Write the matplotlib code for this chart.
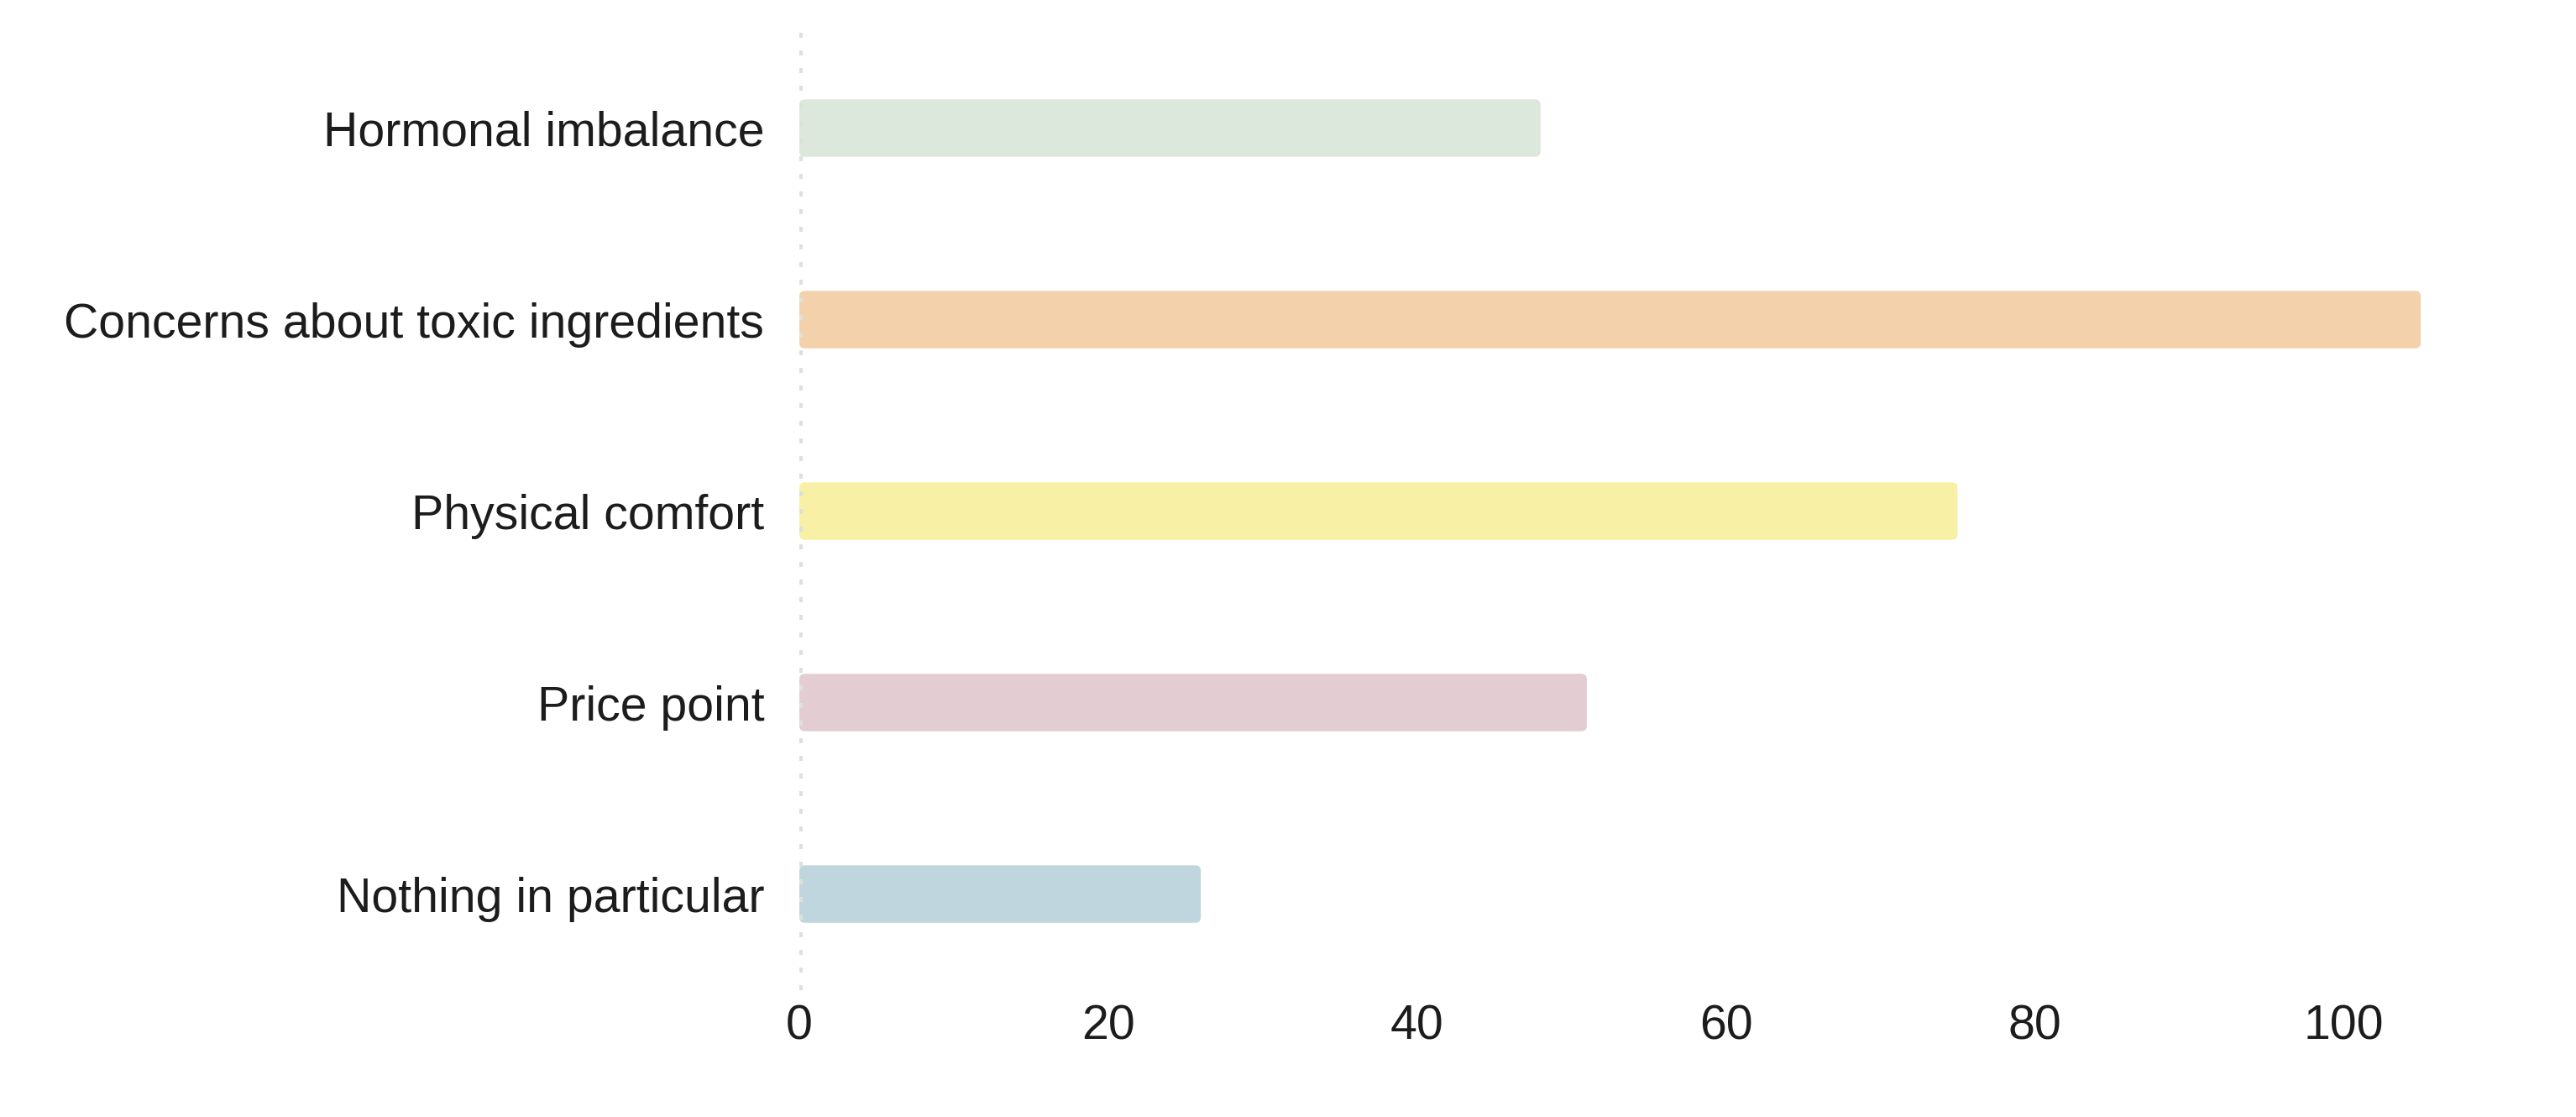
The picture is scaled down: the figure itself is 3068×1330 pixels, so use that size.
import matplotlib.pyplot as plt
from matplotlib.patches import FancyBboxPatch

categories = ['Hormonal imbalance', 'Concerns about toxic ingredients',
              'Physical comfort', 'Price point', 'Nothing in particular']
values = [48, 105, 75, 51, 26]
colors = ['#dce8dc', '#f2d1ab', '#f8f0a5', '#e3cdd3', '#bfd6de']
xticks = [0, 20, 40, 60, 80, 100]


def main():
    plt.rcParams['font.family'] = ['Liberation Sans', 'DejaVu Sans']
    fig = plt.figure(figsize=(15.34, 6.65), dpi=200)
    ax = fig.add_axes([0.3103, 0.1139, 0.6594, 0.8571])

    ypos = list(range(len(categories)))
    bars = ax.barh(ypos, values, height=0.3, color=colors)

    # swap plain bars for slightly rounded ones
    xlim = (0, 110)
    ylim = (4.5, -0.5)
    ax.set_xlim(*xlim)
    ax.set_ylim(*ylim)
    bbox = ax.get_position()
    fw, fh = fig.get_size_inches()
    px_x = bbox.width * fw / (xlim[1] - xlim[0])
    px_y = bbox.height * fh / abs(ylim[1] - ylim[0])
    aspect = px_x / px_y
    for b, c in zip(bars, colors):
        b.set_visible(False)
        p = FancyBboxPatch((b.get_x(), b.get_y()), b.get_width(), b.get_height(),
                           boxstyle='round,pad=0,rounding_size=0.36',
                           mutation_aspect=aspect, facecolor=c, edgecolor='none')
        ax.add_patch(p)

    lw = 2.9
    ax.axvline(0, color='#dde2d6', linewidth=lw, linestyle=(0, (2.16 / lw, 5.4 / lw)),
               zorder=3)

    ax.set_yticks(ypos)
    ax.set_yticklabels(categories, fontsize=20.6, color='#1c1c1c')
    ax.set_xticks(xticks)
    ax.set_xticklabels([str(t) for t in xticks], fontsize=20.6, color='#1c1c1c')
    ax.tick_params(axis='y', length=0, pad=15)
    ax.tick_params(axis='x', length=0, pad=6)
    for s in ax.spines.values():
        s.set_visible(False)

    fig.savefig('out.png', dpi=200)
    plt.close(fig)


if __name__ == "__main__":
    main()
